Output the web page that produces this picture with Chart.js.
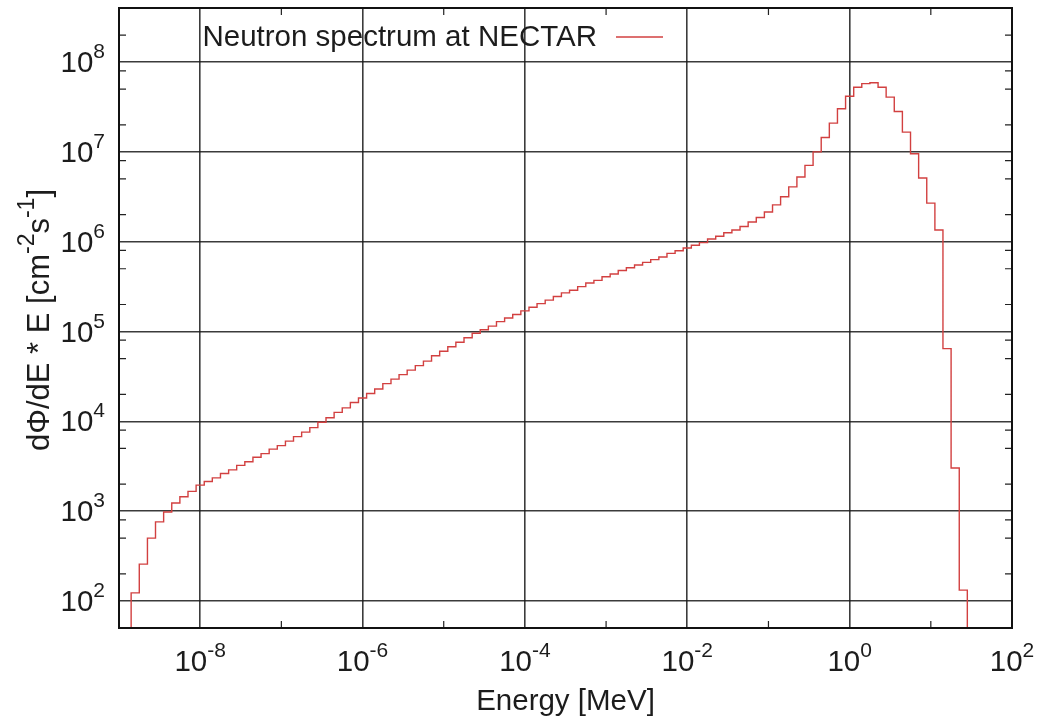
<!DOCTYPE html>
<html lang="en">
<head>
<meta charset="UTF-8">
<title>Neutron spectrum at NECTAR</title>
<script src="https://cdn.jsdelivr.net/npm/chart.js@4"></script>
<style>
  html, body { margin: 0; padding: 0; background: #fff; }
</style>
</head>
<body>
<canvas id="chart" width="1044" height="717"></canvas>
<script>
// histogram bin energies [MeV] (10 bins per decade)
const energy = [
  1.26e-9, 1.58e-9, 2.00e-9, 2.51e-9, 3.16e-9, 3.98e-9, 5.01e-9, 6.31e-9, 7.94e-9,
  1.00e-8, 1.26e-8, 1.58e-8, 2.00e-8, 2.51e-8, 3.16e-8, 3.98e-8, 5.01e-8, 6.31e-8, 7.94e-8,
  1.00e-7, 1.26e-7, 1.58e-7, 2.00e-7, 2.51e-7, 3.16e-7, 3.98e-7, 5.01e-7, 6.31e-7, 7.94e-7,
  1.00e-6, 1.26e-6, 1.58e-6, 2.00e-6, 2.51e-6, 3.16e-6, 3.98e-6, 5.01e-6, 6.31e-6, 7.94e-6,
  1.00e-5, 1.26e-5, 1.58e-5, 2.00e-5, 2.51e-5, 3.16e-5, 3.98e-5, 5.01e-5, 6.31e-5, 7.94e-5,
  1.00e-4, 1.26e-4, 1.58e-4, 2.00e-4, 2.51e-4, 3.16e-4, 3.98e-4, 5.01e-4, 6.31e-4, 7.94e-4,
  1.00e-3, 1.26e-3, 1.58e-3, 2.00e-3, 2.51e-3, 3.16e-3, 3.98e-3, 5.01e-3, 6.31e-3, 7.94e-3,
  1.00e-2, 1.26e-2, 1.58e-2, 2.00e-2, 2.51e-2, 3.16e-2, 3.98e-2, 5.01e-2, 6.31e-2, 7.94e-2,
  1.00e-1, 1.26e-1, 1.58e-1, 2.00e-1, 2.51e-1, 3.16e-1, 3.98e-1, 5.01e-1, 6.31e-1, 7.94e-1,
  1.00, 1.26, 1.58, 2.00, 2.51, 3.16, 3.98, 5.01, 6.31, 7.94,
  10.0, 12.6, 15.8, 20.0, 25.1, 31.6
];

// dPhi/dE * E [cm^-2 s^-1] per bin
const flux = [
  10, 123, 257, 501, 759, 977, 1230, 1445, 1660,
  1950, 2138, 2344, 2630, 2884, 3236, 3548, 3981, 4365, 4898,
  5370, 6026, 6761, 7586, 8511, 9772, 10960, 12590, 14130, 16220,
  18200, 20420, 22910, 26300, 29510, 33110, 37150, 41690, 46770, 53700,
  60260, 67610, 75860, 85110, 95500, 104700, 114800, 128800, 141300, 154900,
  169800, 186200, 204200, 223900, 245500, 269200, 288400, 316200, 346700, 371500,
  407400, 436500, 478600, 512900, 549500, 588800, 631000, 676100, 741300, 794300,
  851100, 912000, 977200, 1.072e6, 1.148e6, 1.259e6, 1.349e6, 1.479e6, 1.660e6, 1.862e6,
  2.138e6, 2.570e6, 3.162e6, 4.074e6, 5.248e6, 7.079e6, 1.000e7, 1.445e7, 2.089e7, 3.020e7,
  4.169e7, 5.248e7, 5.754e7, 5.888e7, 5.248e7, 4.074e7, 2.818e7, 1.660e7, 9.550e6, 5.129e6,
  2.692e6, 1.349e6, 6.457e4, 3020, 132, 10
];

const xTicks = [1e-8, 1e-6, 1e-4, 1e-2, 1e0, 1e2];
const xTickLabels = ['-8', '-6', '-4', '-2', '0', '2'];   // powers of ten
const yTicks = [1e2, 1e3, 1e4, 1e5, 1e6, 1e7, 1e8];
const yTickLabels = ['2', '3', '4', '5', '6', '7', '8'];
const xMinorTicks = [1e-7, 1e-5, 1e-3, 1e-1, 1e1];
const yMinorTicks = [200, 500, 800, 2e3, 5e3, 8e3, 2e4, 5e4, 8e4, 2e5, 5e5, 8e5,
                     2e6, 5e6, 8e6, 2e7, 5e7, 8e7, 2e8];

const seriesLabel = 'Neutron spectrum at NECTAR';
const xTitle = 'Energy [MeV]';
const yTitle = [['dΦ/dE * E [cm', false], ['-2', true], ['s', false], ['-1', true], [']', false]];

const FACE = '"Liberation Sans", Arial, Helvetica, sans-serif';
const TEXT = { main: '29.5px ' + FACE, sup: '21px ' + FACE, raise: 14 };
const YTEXT = { main: '31px ' + FACE, sup: '23px ' + FACE, raise: 15 };
const LINE_RED = 'rgb(210, 64, 64)';

// text with raised parts, y is the baseline
function richWidth(ctx, parts, f) {
    let w = 0;
    parts.forEach(([t, sup]) => { ctx.font = sup ? f.sup : f.main; w += ctx.measureText(t).width; });
    return w;
}
function drawRich(ctx, parts, x, y, f) {
    let cx = x;
    parts.forEach(([t, sup]) => {
        ctx.font = sup ? f.sup : f.main;
        ctx.fillText(t, cx, sup ? y - f.raise : y);
        cx += ctx.measureText(t).width;
    });
}
function drawPower(ctx, exp, x, y, align) {
    const parts = [['10', false], [exp, true]];
    const w = richWidth(ctx, parts, TEXT);
    const x0 = align === 'right' ? x - w : x - w / 2;
    drawRich(ctx, parts, x0, y, TEXT);
}

const decor = {
    id: 'decor',
    afterDatasetsDraw(chart) {
        const { ctx, chartArea: a, scales: { x, y } } = chart;
        ctx.save();

        // small tics inside the frame, on all four sides
        ctx.strokeStyle = '#222';
        ctx.lineWidth = 1.2;
        ctx.beginPath();
        xMinorTicks.forEach(v => {
            const px = x.getPixelForValue(v);
            ctx.moveTo(px, a.bottom); ctx.lineTo(px, a.bottom - 7);
            ctx.moveTo(px, a.top); ctx.lineTo(px, a.top + 7);
        });
        yMinorTicks.forEach(v => {
            const py = y.getPixelForValue(v);
            ctx.moveTo(a.left, py); ctx.lineTo(a.left + 7, py);
            ctx.moveTo(a.right, py); ctx.lineTo(a.right - 7, py);
        });
        ctx.stroke();

        // frame
        ctx.strokeStyle = '#111';
        ctx.lineWidth = 2;
        ctx.strokeRect(a.left, a.top, a.right - a.left, a.bottom - a.top);

        // tick labels
        ctx.fillStyle = '#1c1c1c';
        ctx.textAlign = 'left';
        ctx.textBaseline = 'alphabetic';
        xTicks.forEach((v, i) => drawPower(ctx, xTickLabels[i], x.getPixelForValue(v), a.bottom + 43, 'center'));
        yTicks.forEach((v, i) => drawPower(ctx, yTickLabels[i], a.left - 14, y.getPixelForValue(v) + 10, 'right'));

        // axis titles
        ctx.font = TEXT.main;
        const wx = ctx.measureText(xTitle).width;
        ctx.fillText(xTitle, (a.left + a.right) / 2 - wx / 2, a.bottom + 82);

        ctx.save();
        ctx.translate(49, (a.top + a.bottom) / 2 + 2);
        ctx.rotate(-Math.PI / 2);
        drawRich(ctx, yTitle, -richWidth(ctx, yTitle, YTEXT) / 2, 0, YTEXT);
        ctx.restore();

        // key: text then sample line
        ctx.font = TEXT.main;
        const wl = ctx.measureText(seriesLabel).width;
        ctx.fillText(seriesLabel, a.left + 478 - wl, a.top + 38);
        ctx.strokeStyle = LINE_RED;
        ctx.lineWidth = 1.4;
        ctx.beginPath();
        ctx.moveTo(a.left + 497, a.top + 29);
        ctx.lineTo(a.left + 544, a.top + 29);
        ctx.stroke();

        ctx.restore();
    }
};

const gridStyle = { color: 'rgba(25, 25, 25, 0.85)', lineWidth: 1.6, drawTicks: false };

new Chart(document.getElementById('chart'), {
    type: 'line',
    data: {
        datasets: [{
            label: seriesLabel,
            data: energy.map((e, i) => ({ x: e, y: flux[i] })),
            stepped: 'middle',
            borderColor: LINE_RED,
            borderWidth: 1.4,
            pointRadius: 0,
            fill: false
        }]
    },
    options: {
        responsive: false,
        animation: false,
        layout: { padding: { top: 8, right: 32, left: 0, bottom: 0 } },
        plugins: { legend: { display: false }, tooltip: { enabled: false } },
        scales: {
            x: {
                type: 'logarithmic',
                min: 1e-9,
                max: 1e2,
                afterBuildTicks: s => { s.ticks = xTicks.map(v => ({ value: v })); },
                afterFit: s => { s.height = 89; },
                ticks: { display: false },
                grid: gridStyle,
                border: { display: false }
            },
            y: {
                type: 'logarithmic',
                min: 50,
                max: 4e8,
                afterBuildTicks: s => { s.ticks = yTicks.map(v => ({ value: v })); },
                afterFit: s => { s.width = 119; },
                ticks: { display: false },
                grid: gridStyle,
                border: { display: false }
            }
        }
    },
    plugins: [decor]
});
</script>
</body>
</html>
